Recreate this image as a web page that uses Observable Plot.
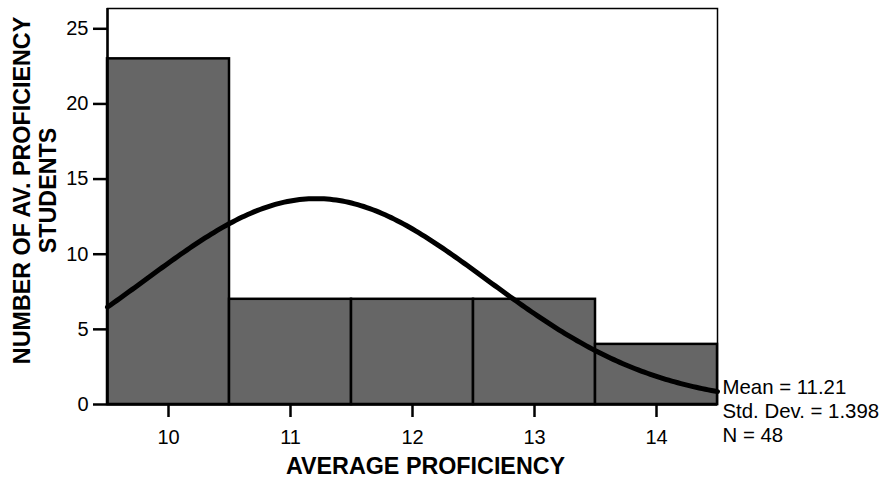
<!DOCTYPE html>
<html>
<head>
<meta charset="utf-8">
<script src="https://cdn.jsdelivr.net/npm/d3@7"></script>
<script src="https://cdn.jsdelivr.net/npm/@observablehq/plot@0.6"></script>
<style>
  html, body { margin: 0; padding: 0; background: white; }
</style>
</head>
<body>
<div id="chart"></div>
<script>
// Histogram of average proficiency scores with a fitted normal curve
const proficiency = [10, 11, 12, 13, 14];
const students = [23, 7, 7, 7, 4];
const yTicks = [0, 5, 10, 15, 20, 25];

// Summary statistics shown beside the chart
const mean = 11.21;
const stdDev = 1.398;
const n = 48;
const binWidth = 1;

const bars = proficiency.map((p, i) => ({p, count: students[i]}));

// Expected counts under the normal distribution with the stated mean and SD
const xs = d3.range(9.5, 14.5001, 0.025);
const normal = xs.map(x => ({
  x,
  y: n * binWidth * Math.exp(-0.5 * ((x - mean) / stdDev) ** 2) / (stdDev * Math.sqrt(2 * Math.PI))
}));

const chart = Plot.plot({
  width: 885,
  height: 483,
  marginLeft: 107,
  marginRight: 168,
  marginTop: 8,
  marginBottom: 79,
  x: {domain: [9.5, 14.5]},
  y: {domain: [0, 26.35]},
  style: {
    fontFamily: "'Liberation Sans', Arial, sans-serif",
    fontSize: "20px",
    color: "black",
    background: "white"
  },
  marks: [
    Plot.rectY(bars, {
      x1: d => d.p - binWidth / 2,
      x2: d => d.p + binWidth / 2,
      y: "count",
      fill: "#666666",
      stroke: "black",
      strokeWidth: 2.5
    }),
    Plot.frame({stroke: "black", strokeWidth: 1.5}),
    Plot.ruleY([0], {stroke: "black", strokeWidth: 2.5}),
    Plot.ruleX([9.5], {stroke: "black", strokeWidth: 2.5}),
    Plot.line(normal, {x: "x", y: "y", stroke: "black", strokeWidth: 5}),
    Plot.axisX(proficiency, {
      tickSize: 13, tickPadding: 12, strokeWidth: 2.5,
      tickFormat: d => String(d), label: null
    }),
    Plot.axisY(yTicks, {
      tickSize: 14, tickPadding: 5, strokeWidth: 2.5,
      tickFormat: d => String(d), label: null
    }),
    Plot.text(["AVERAGE PROFICIENCY"], {
      frameAnchor: "bottom", dx: 13, dy: 62.5,
      lineAnchor: "middle", fontWeight: "bold", fontSize: 23.3
    }),
    Plot.text(["NUMBER OF AV. PROFICIENCY\nSTUDENTS"], {
      frameAnchor: "left", dx: -73, dy: -16, rotate: -90,
      lineAnchor: "middle", lineHeight: 1.13,
      fontWeight: "bold", fontSize: 23.3, textAnchor: "middle"
    }),
    Plot.text([`Mean = ${mean}\nStd. Dev. = ${stdDev}\nN = ${n}`], {
      frameAnchor: "bottom-right", dx: 5, dy: 6,
      textAnchor: "start", lineAnchor: "middle", lineHeight: 1.17, fontSize: 20.4
    })
  ]
});

document.getElementById("chart").appendChild(chart);
</script>
</body>
</html>
